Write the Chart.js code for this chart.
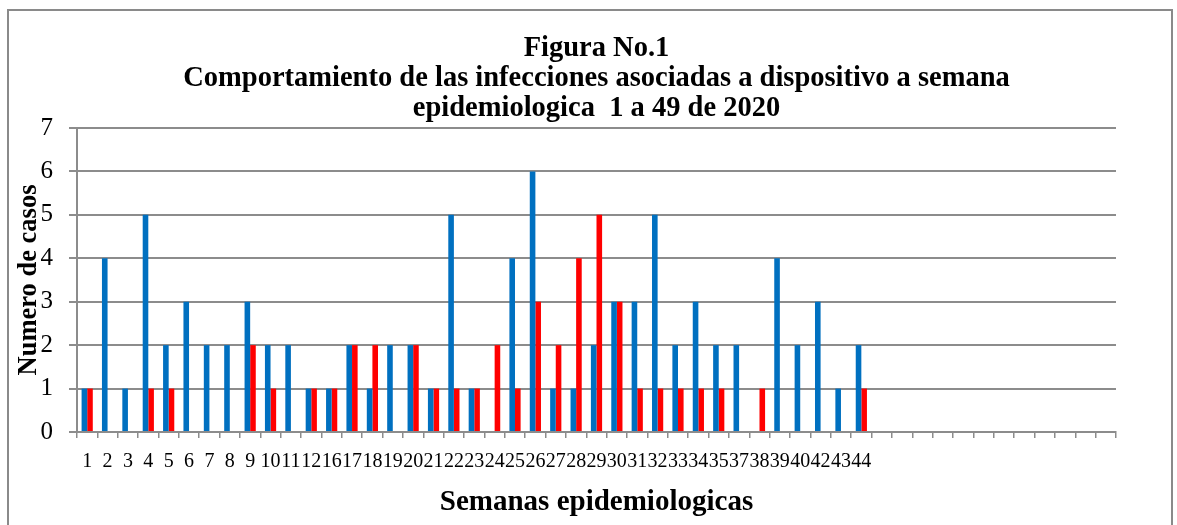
<!DOCTYPE html>
<html>
<head>
<meta charset="utf-8">
<title>Figura No.1</title>
<script src="https://cdn.jsdelivr.net/npm/chart.js@4.4.1/dist/chart.umd.min.js"></script>
<style>
  html, body { margin: 0; padding: 0; background: #ffffff; }
  #wrap { position: relative; width: 1177px; height: 525px; overflow: hidden; }
  #frame {
    position: absolute; left: 7px; top: 9px; width: 1166px; height: 580px;
    border: 2px solid #8a8a8a; box-sizing: border-box;
  }
  #casosChart { position: absolute; left: 0; top: 0; }
</style>
</head>
<body>
<div id="wrap">
  <div id="frame"></div>
  <canvas id="casosChart" width="1177" height="525"></canvas>
</div>
<script>
// semanas epidemiologicas (las ultimas categorias no tienen etiqueta)
var semanas = ['1', '2', '3', '4', '5', '6', '7', '8', '9', '10', '11', '12',
  '16', '17', '18', '19', '20', '21', '22', '23', '24', '25', '26', '27', '28',
  '29', '30', '31', '32', '33', '34', '35', '37', '38', '39', '40', '42', '43', '44',
  '', '', '', '', '', '', '', '', '', '', '', ''];

var serieAzul = [1, 4, 1, 5, 2, 3, 2, 2, 3, 2, 2, 1,
  1, 2, 1, 2, 2, 1, 5, 1, 0, 4, 6, 1, 1,
  2, 3, 3, 5, 2, 3, 2, 2, 0, 4, 2, 3, 1, 2];

var serieRoja = [1, 0, 0, 1, 1, 0, 0, 0, 2, 1, 0, 1,
  1, 2, 2, 0, 2, 1, 1, 1, 2, 1, 3, 2, 4,
  5, 3, 1, 1, 1, 1, 1, 0, 1, 0, 0, 0, 0, 1];

var titulo = ['Figura No.1',
  'Comportamiento de las infecciones asociadas a dispositivo a semana',
  'epidemiologica  1 a 49 de 2020'];

var fuente = 'Liberation Serif';
var gris = '#8c8c8c';

var ctx = document.getElementById('casosChart');
var casosChart = new Chart(ctx, {
  type: 'bar',
  data: {
    labels: semanas,
    datasets: [{
      label: 'Serie 1',
      data: serieAzul,
      backgroundColor: '#0070C0',
      borderWidth: 0,
      barPercentage: 1,
      categoryPercentage: 0.55
    }, {
      label: 'Serie 2',
      data: serieRoja,
      backgroundColor: '#FF0000',
      borderWidth: 0,
      barPercentage: 1,
      categoryPercentage: 0.55
    }]
  },
  options: {
    responsive: false,
    animation: false,
    layout: { padding: { left: 0, right: 61, top: 0, bottom: 0 } },
    plugins: {
      legend: { display: false },
      tooltip: { enabled: false },
      title: {
        display: true,
        fullSize: false,
        text: titulo,
        color: '#000000',
        font: { family: fuente, size: 28.5, weight: 'bold', lineHeight: 30 / 28.5 },
        padding: { top: 34, bottom: 4 }
      }
    },
    scales: {
      x: {
        afterFit: function (scale) { scale.height = 93; },
        grid: {
          offset: true,
          drawOnChartArea: false,
          drawTicks: true,
          tickLength: 6,
          color: gris,
          lineWidth: 1.5
        },
        border: { display: true, color: gris, width: 2 },
        ticks: {
          autoSkip: false,
          maxRotation: 0,
          minRotation: 0,
          padding: 12,
          color: '#000000',
          font: { family: fuente, size: 20 }
        },
        title: {
          display: true,
          text: 'Semanas epidemiologicas',
          color: '#000000',
          font: { family: fuente, size: 29, weight: 'bold' },
          padding: { top: 0, bottom: 5 }
        }
      },
      y: {
        min: 0,
        max: 7,
        afterFit: function (scale) { scale.width = 77; },
        grid: {
          color: gris,
          lineWidth: 2,
          tickLength: 8
        },
        border: { display: true, color: gris, width: 2 },
        ticks: {
          stepSize: 1,
          padding: 16,
          color: '#000000',
          font: { family: fuente, size: 25 }
        },
        title: {
          display: true,
          text: 'Numero de casos',
          color: '#000000',
          font: { family: fuente, size: 26.5, weight: 'bold' },
          padding: { top: 13, bottom: 0 }
        }
      }
    }
  }
});
</script>
</body>
</html>
